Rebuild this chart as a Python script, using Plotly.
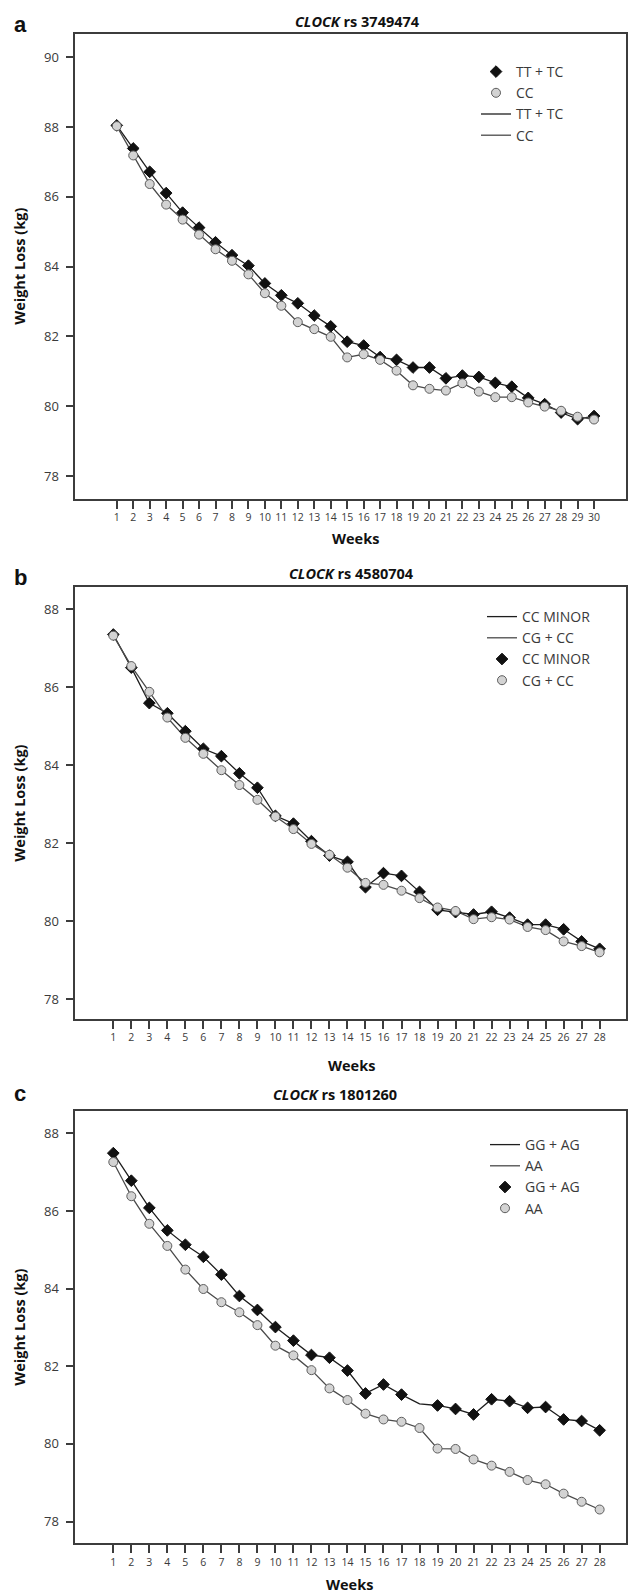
import plotly.graph_objects as go

# ---- data -------------------------------------------------------------
weeks_a = list(range(1, 31))
tt_tc = [88.05, 87.39, 86.72, 86.11, 85.55, 85.12, 84.70, 84.33, 84.03, 83.52,
         83.18, 82.95, 82.60, 82.29, 81.85, 81.74, 81.41, 81.33, 81.11, 81.11,
         80.80, 80.88, 80.84, 80.67, 80.56, 80.24, 80.06, 79.82, 79.63, 79.72]
cc_a = [88.03, 87.19, 86.37, 85.78, 85.35, 84.92, 84.50, 84.17, 83.78, 83.24,
        82.88, 82.41, 82.21, 81.99, 81.40, 81.49, 81.33, 81.02, 80.60, 80.50,
        80.45, 80.66, 80.42, 80.26, 80.26, 80.11, 79.99, 79.87, 79.70, 79.62]

weeks_b = list(range(1, 29))
cc_minor = [87.35, 86.50, 85.59, 85.33, 84.87, 84.42, 84.23, 83.79, 83.42, 82.70,
            82.50, 82.05, 81.68, 81.52, 80.87, 81.23, 81.16, 80.75, 80.29, 80.23,
            80.17, 80.24, 80.09, 79.91, 79.91, 79.79, 79.48, 79.29]
cg_cc = [87.32, 86.54, 85.88, 85.22, 84.70, 84.29, 83.87, 83.49, 83.11, 82.68,
         82.36, 81.98, 81.70, 81.37, 80.98, 80.93, 80.78, 80.59, 80.35, 80.26,
         80.05, 80.10, 80.04, 79.85, 79.77, 79.48, 79.36, 79.20]

weeks_c = list(range(1, 29))
gg_ag = [87.49, 86.78, 86.08, 85.50, 85.13, 84.82, 84.36, 83.81, 83.45, 83.01,
         82.66, 82.29, 82.22, 81.89, 81.30, 81.53, 81.27, 81.03, 80.99, 80.90,
         80.76, 81.15, 81.10, 80.93, 80.95, 80.63, 80.59, 80.35]
gg_ag_unmarked_weeks = [18]
aa = [87.26, 86.38, 85.67, 85.10, 84.49, 83.99, 83.65, 83.39, 83.06, 82.53,
      82.28, 81.90, 81.43, 81.13, 80.78, 80.63, 80.57, 80.41, 79.88, 79.87,
      79.60, 79.44, 79.28, 79.07, 78.96, 78.72, 78.51, 78.31]

panel_letters = ["a", "b", "c"]
panel_snps = ["3749474", "4580704", "1801260"]
yticks_a = [78, 80, 82, 84, 86, 88, 90]
yticks_bc = [78, 80, 82, 84, 86, 88]

# ---- page geometry (pixels) -------------------------------------------
W, H = 632, 1593
FONT = "Open Sans"
DARK = "#1e1e1e"
GREY_LINE = "#4a4a4a"
DIAMOND = "#111111"
CIRCLE_FILL = "#d3d3d3"
CIRCLE_EDGE = "#5e5e5e"
AXIS_COL = "#3c3c3c"
TEXT_COL = "#3a3a3a"

def px(x):
    return x / W

def py(y):
    return 1 - y / H

# plot boxes: left, right, top, bottom
boxes = [
    (75.3, 626.3, 34.0, 498.7),
    (75.3, 626.3, 587.3, 1019.0),
    (75.3, 626.3, 1111.2, 1543.3),
]
x_ranges = [[-1.52, 31.96], [-1.11, 29.48], [-1.11, 29.48]]
y_ranges = [[77.35, 90.67], [77.49, 88.56], [77.44, 88.57]]

fig = go.Figure()

def line_trace(x, y, name, color, width, axis_idx, rank):
    sfx = "" if axis_idx == 1 else str(axis_idx)
    return go.Scatter(
        x=x, y=y, mode="lines", name=name,
        line=dict(color=color, width=width),
        xaxis="x" + sfx, yaxis="y" + sfx,
        legend="legend" + sfx, legendrank=rank,
    )

def marker_trace(x, y, name, symbol, size, fill, edge, axis_idx, rank):
    sfx = "" if axis_idx == 1 else str(axis_idx)
    return go.Scatter(
        x=x, y=y, mode="markers", name=name,
        marker=dict(symbol=symbol, size=size, color=fill,
                    line=dict(color=edge, width=1)),
        xaxis="x" + sfx, yaxis="y" + sfx,
        legend="legend" + sfx, legendrank=rank,
    )

D_SIZE, C_SIZE = 9, 9

# panel a: markers listed before lines in the legend
fig.add_trace(line_trace(weeks_a, tt_tc, "TT + TC", DARK, 1.3, 1, 3))
fig.add_trace(line_trace(weeks_a, cc_a, "CC", GREY_LINE, 1.3, 1, 4))
fig.add_trace(marker_trace(weeks_a, tt_tc, "TT + TC", "diamond", D_SIZE, DIAMOND, DIAMOND, 1, 1))
fig.add_trace(marker_trace(weeks_a, cc_a, "CC", "circle", C_SIZE, CIRCLE_FILL, CIRCLE_EDGE, 1, 2))

# panel b: lines listed first
fig.add_trace(line_trace(weeks_b, cc_minor, "CC MINOR", DARK, 1.3, 2, 1))
fig.add_trace(line_trace(weeks_b, cg_cc, "CG + CC", GREY_LINE, 1.3, 2, 2))
fig.add_trace(marker_trace(weeks_b, cc_minor, "CC MINOR", "diamond", D_SIZE, DIAMOND, DIAMOND, 2, 3))
fig.add_trace(marker_trace(weeks_b, cg_cc, "CG + CC", "circle", C_SIZE, CIRCLE_FILL, CIRCLE_EDGE, 2, 4))

# panel c: lines listed first; week 18 of GG + AG has no symbol
gg_ag_marked = [v if w not in gg_ag_unmarked_weeks else None for w, v in zip(weeks_c, gg_ag)]
fig.add_trace(line_trace(weeks_c, gg_ag, "GG + AG", DARK, 1.3, 3, 1))
fig.add_trace(line_trace(weeks_c, aa, "AA", GREY_LINE, 1.3, 3, 2))
fig.add_trace(marker_trace(weeks_c, gg_ag_marked, "GG + AG", "diamond", D_SIZE, DIAMOND, DIAMOND, 3, 3))
fig.add_trace(marker_trace(weeks_c, aa, "AA", "circle", C_SIZE, CIRCLE_FILL, CIRCLE_EDGE, 3, 4))

layout = dict(
    width=W, height=H,
    margin=dict(l=0, r=0, t=0, b=0),
    paper_bgcolor="white", plot_bgcolor="white",
    font=dict(family=FONT, color=TEXT_COL),
    annotations=[],
)

week_lists = [weeks_a, weeks_b, weeks_c]
ytick_lists = [yticks_a, yticks_bc, yticks_bc]
legend_pos = [(476, 56), (482, 601), (485, 1129)]
title_x = [357, 351, 335]
title_y = [21, 573, 1094]
letter_y = [24, 577, 1093]
weeks_y = [538, 1065, 1584]
weeks_x = [355, 351, 350]

for i in range(3):
    sfx = "" if i == 0 else str(i + 1)
    l, r, t, b = boxes[i]
    common = dict(
        showline=True, linecolor=AXIS_COL, linewidth=1.6, mirror=True,
        showgrid=False, zeroline=False,
        ticks="outside", ticklen=8, tickwidth=1.5, tickcolor=AXIS_COL,
    )
    layout["xaxis" + sfx] = dict(
        common, domain=[px(l), px(r)], range=x_ranges[i],
        tickmode="array", tickvals=week_lists[i],
        ticktext=[str(w) for w in week_lists[i]],
        tickfont=dict(family=FONT, size=10.5, color=TEXT_COL),
        anchor="y" + sfx,
    )
    layout["yaxis" + sfx] = dict(
        common, domain=[py(b), py(t)], range=y_ranges[i],
        tickmode="array", tickvals=ytick_lists[i],
        tickfont=dict(family=FONT, size=13, color=TEXT_COL),
        ticklabelstandoff=4,
        anchor="x" + sfx,
    )
    lx, ly = legend_pos[i]
    layout["legend" + sfx] = dict(
        x=px(lx), y=py(ly), xanchor="left", yanchor="top",
        bgcolor="rgba(0,0,0,0)", borderwidth=0,
        font=dict(family=FONT, size=14, color=TEXT_COL),
        traceorder="normal", itemsizing="trace", tracegroupgap=0,
    )
    ann = layout["annotations"]
    ann.append(dict(
        x=px(20), y=py(letter_y[i]), xref="paper", yref="paper",
        text="<b>%s</b>" % panel_letters[i], showarrow=False,
        xanchor="center", yanchor="middle",
        font=dict(family="Liberation Sans", size=22, color="#111111"),
    ))
    ann.append(dict(
        x=px(title_x[i]), y=py(title_y[i]), xref="paper", yref="paper",
        text="<b><i>CLOCK</i> rs %s</b>" % panel_snps[i], showarrow=False,
        xanchor="center", yanchor="middle",
        font=dict(family=FONT, size=14.5, color="#111111"),
    ))
    ann.append(dict(
        x=px(19.5), y=py((t + b) / 2), xref="paper", yref="paper",
        text="<b>Weight Loss (kg)</b>", showarrow=False, textangle=-90,
        xanchor="center", yanchor="middle",
        font=dict(family=FONT, size=14.5, color="#111111"),
    ))
    ann.append(dict(
        x=px(weeks_x[i]), y=py(weeks_y[i]), xref="paper", yref="paper",
        text="<b>Weeks</b>", showarrow=False,
        xanchor="center", yanchor="middle",
        font=dict(family=FONT, size=14.5, color="#111111"),
    ))

fig.update_layout(**layout)
fig.write_html("out.html")
